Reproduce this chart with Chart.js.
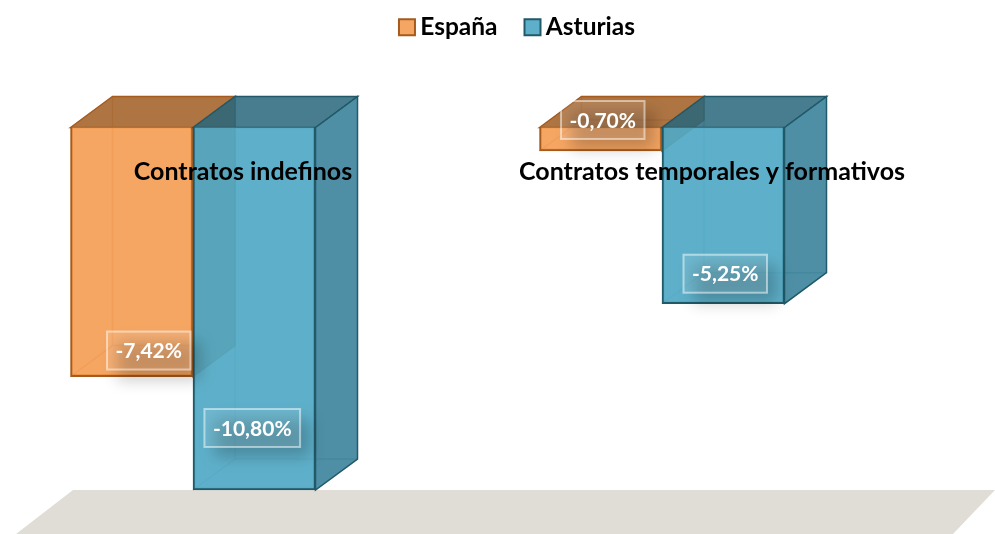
<!DOCTYPE html>
<html>
<head>
<meta charset="utf-8">
<title>Contratos</title>
<script src="https://cdn.jsdelivr.net/npm/chart.js@4/dist/chart.umd.js"></script>
<style>
  html, body { margin: 0; padding: 0; background: #fff; overflow: hidden; }
  canvas { display: block; }
</style>
</head>
<body>
<canvas id="chart" width="995" height="534"></canvas>
<script>
const categories = ['Contratos indefinos', 'Contratos temporales y formativos'];
const espana = [-7.42, -0.70];
const asturias = [-10.80, -5.25];
const seriesNames = ['España', 'Asturias'];

const FONT = 'Lato, Carlito, "Open Sans", sans-serif';
// depth of the fake 3d box
const DX = 42;
const DY = -31;

const faces = [
  { front: 'rgba(245,150,72,0.85)', dark: 'rgba(160,93,34,0.85)', side: 'rgba(170,100,40,0.85)', line: '#a55a1e', inner: 'rgba(190,100,30,0.35)' },
  { front: 'rgba(80,169,198,0.92)', dark: 'rgba(39,102,123,0.85)', side: 'rgba(47,123,149,0.85)', line: '#215968', inner: 'rgba(33,89,104,0.3)' }
];

// hand placed data labels in the original, relative to the bar bottom centre
const labelShift = [
  [[17, -26], [2, -31]],
  [[-2, -62], [2, -30]]
];

function poly(ctx, pts, fill, stroke, open) {
  ctx.beginPath();
  pts.forEach((p, i) => (i ? ctx.lineTo(p[0], p[1]) : ctx.moveTo(p[0], p[1])));
  if (!open) ctx.closePath();
  if (fill) { ctx.fillStyle = fill; ctx.fill(); }
  if (stroke) { ctx.strokeStyle = stroke; ctx.lineWidth = 1.5; ctx.stroke(); }
}

function drawBox(ctx, bar, f) {
  const l = bar.x - bar.width / 2;
  const r = bar.x + bar.width / 2;
  const t = bar.base;
  const b = bar.y;
  // hidden edges, seen through the front
  poly(ctx, [[l + DX, t + DY], [l + DX, b + DY], [r + DX, b + DY]], null, f.inner, true);
  poly(ctx, [[l, b], [l + DX, b + DY]], null, f.inner, true);
  // top and right faces
  poly(ctx, [[l, t], [l + DX, t + DY], [r + DX, t + DY], [r, t]], f.dark, f.line);
  poly(ctx, [[r, t], [r + DX, t + DY], [r + DX, b + DY], [r, b]], f.side, f.line);
  bar.draw(ctx);
}

function drawValueLabel(ctx, bar, value, shift) {
  const text = value.toFixed(2).replace('.', ',') + '%';
  ctx.font = 'bold 21px ' + FONT;
  const w = ctx.measureText(text).width + 17;
  const h = 38;
  const cx = bar.x + shift[0];
  const cy = bar.y + shift[1];
  const x = cx - w / 2;
  const y = cy - h / 2;

  // shadow only: the rect itself sits off canvas
  ctx.save();
  ctx.shadowColor = 'rgba(0,0,0,0.22)';
  ctx.shadowBlur = 16;
  ctx.shadowOffsetX = 2000 + 10;
  ctx.shadowOffsetY = 10;
  ctx.fillStyle = '#000';
  ctx.fillRect(x - 2000, y, w, h);
  ctx.restore();

  ctx.fillStyle = 'rgba(255,255,255,0.1)';
  ctx.fillRect(x, y, w, h);
  ctx.strokeStyle = 'rgba(255,255,255,0.5)';
  ctx.lineWidth = 2;
  ctx.strokeRect(x, y, w, h);
  ctx.fillStyle = '#fff';
  ctx.textAlign = 'center';
  ctx.textBaseline = 'middle';
  ctx.fillText(text, cx, cy + 1);
}

const box3d = {
  id: 'box3d',
  afterLayout(chart) {
    // legend is centred on the page and stays at the top, the plot has its own padding
    chart.legend.left = 46;
    chart.legend.right = 995;
    chart.legend.bottom -= chart.legend.top + 19;
    chart.legend.top = -19;
  },
  beforeDatasetsDraw(chart) {
    const ctx = chart.ctx;
    const floor = chart.scales.y.getPixelForValue(asturias[0]);
    poly(ctx, [[73, floor], [995, floor], [953, 534], [16, 534]], '#e0ddd7');
  },
  // bars are drawn by hand below so that Asturias ends on top
  beforeDatasetDraw() {
    return false;
  },
  afterDatasetsDraw(chart) {
    const ctx = chart.ctx;
    [0, 1].forEach(i => {
      chart.getDatasetMeta(i).data.forEach(bar => drawBox(ctx, bar, faces[i]));
    });
    [0, 1].forEach(i => {
      chart.getDatasetMeta(i).data.forEach((bar, j) => {
        drawValueLabel(ctx, bar, chart.data.datasets[i].data[j], labelShift[i][j]);
      });
    });
  }
};

new Chart(document.getElementById('chart'), {
  type: 'bar',
  data: {
    labels: categories,
    datasets: [
      { label: seriesNames[0], data: espana, backgroundColor: faces[0].front, borderColor: faces[0].line, borderWidth: 2 },
      { label: seriesNames[1], data: asturias, backgroundColor: faces[1].front, borderColor: faces[1].line, borderWidth: 2 }
    ]
  },
  plugins: [box3d],
  options: {
    responsive: false,
    animation: false,
    layout: { padding: { left: 193, right: 333, top: 59, bottom: 44 } },
    barThickness: 122.5,
    plugins: {
      tooltip: { enabled: false },
      legend: {
        position: 'top',
        onClick: null,
        labels: {
          color: '#000',
          font: { family: FONT, size: 24.5, weight: 'bold' },
          usePointStyle: true,
          pointStyle: 'rect',
          boxWidth: 2,
          boxHeight: 16,
          padding: 34
        }
      }
    },
    scales: {
      x: {
        position: { y: 0 },
        offset: false,
        grid: { display: false },
        border: { display: false },
        ticks: {
          z: 1,
          color: '#000',
          font: { family: FONT, size: 25, weight: 'bold' },
          autoSkip: false,
          maxRotation: 0,
          minRotation: 0,
          padding: 21,
          labelOffset: 50
        }
      },
      y: {
        display: false,
        min: asturias[0],
        max: 0
      }
    }
  }
});
</script>
</body>
</html>
